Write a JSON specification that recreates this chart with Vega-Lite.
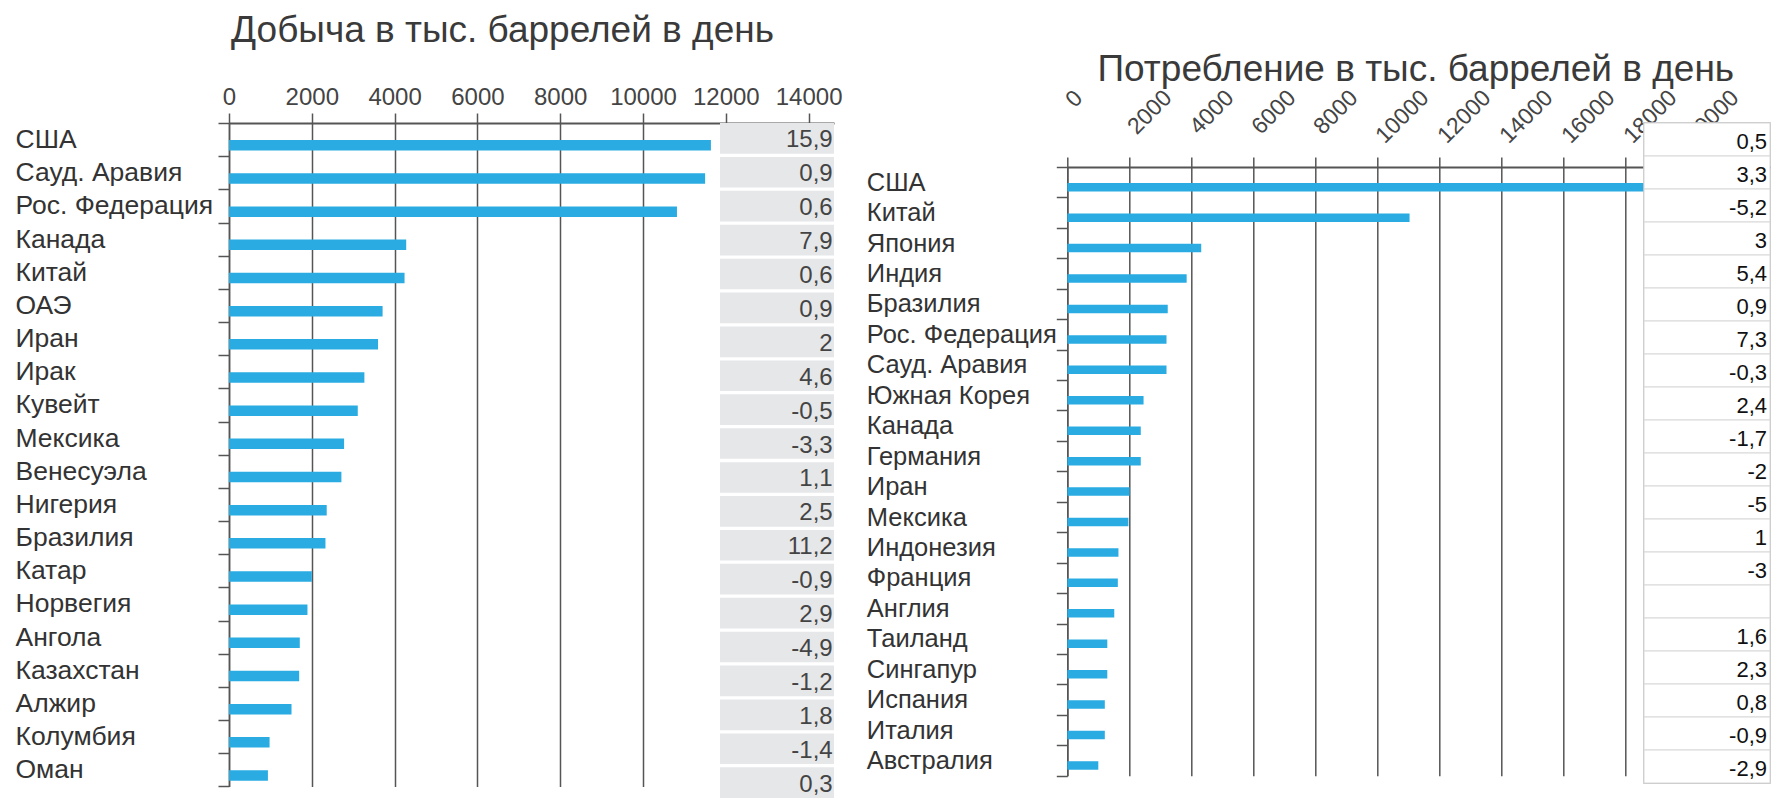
{
  "$schema": "https://vega.github.io/schema/vega-lite/v6.json",
  "padding": {"left": 15, "top": 12, "right": 0, "bottom": 0},
  "autosize": {"type": "pad"},
  "config": {
    "font": "Liberation Sans",
    "view": {"stroke": null},
    "title": {"fontWeight": "normal", "fontSize": 37, "color": "#3a3a3a"}
  },
  "datasets": {
    "production": [
      {"country": "США", "kbd": 11640, "change": "15,9"},
      {"country": "Сауд. Аравия", "kbd": 11500, "change": "0,9"},
      {"country": "Рос. Федерация", "kbd": 10820, "change": "0,6"},
      {"country": "Канада", "kbd": 4280, "change": "7,9"},
      {"country": "Китай", "kbd": 4240, "change": "0,6"},
      {"country": "ОАЭ", "kbd": 3710, "change": "0,9"},
      {"country": "Иран", "kbd": 3600, "change": "2"},
      {"country": "Ирак", "kbd": 3270, "change": "4,6"},
      {"country": "Кувейт", "kbd": 3110, "change": "-0,5"},
      {"country": "Мексика", "kbd": 2780, "change": "-3,3"},
      {"country": "Венесуэла", "kbd": 2715, "change": "1,1"},
      {"country": "Нигерия", "kbd": 2360, "change": "2,5"},
      {"country": "Бразилия", "kbd": 2330, "change": "11,2"},
      {"country": "Катар", "kbd": 2000, "change": "-0,9"},
      {"country": "Норвегия", "kbd": 1895, "change": "2,9"},
      {"country": "Ангола", "kbd": 1710, "change": "-4,9"},
      {"country": "Казахстан", "kbd": 1695, "change": "-1,2"},
      {"country": "Алжир", "kbd": 1510, "change": "1,8"},
      {"country": "Колумбия", "kbd": 980, "change": "-1,4"},
      {"country": "Оман", "kbd": 940, "change": "0,3"}
    ],
    "consumption": [
      {"country": "США", "kbd": 19000, "change": "0,5"},
      {"country": "Китай", "kbd": 11040, "change": "3,3"},
      {"country": "Япония", "kbd": 4320, "change": "-5,2"},
      {"country": "Индия", "kbd": 3850, "change": "3"},
      {"country": "Бразилия", "kbd": 3240, "change": "5,4"},
      {"country": "Рос. Федерация", "kbd": 3200, "change": "0,9"},
      {"country": "Сауд. Аравия", "kbd": 3200, "change": "7,3"},
      {"country": "Южная Корея", "kbd": 2460, "change": "-0,3"},
      {"country": "Канада", "kbd": 2370, "change": "2,4"},
      {"country": "Германия", "kbd": 2370, "change": "-1,7"},
      {"country": "Иран", "kbd": 2010, "change": "-2"},
      {"country": "Мексика", "kbd": 1970, "change": "-5"},
      {"country": "Индонезия", "kbd": 1650, "change": "1"},
      {"country": "Франция", "kbd": 1630, "change": "-3"},
      {"country": "Англия", "kbd": 1515, "change": ""},
      {"country": "Таиланд", "kbd": 1290, "change": "1,6"},
      {"country": "Сингапур", "kbd": 1290, "change": "2,3"},
      {"country": "Испания", "kbd": 1210, "change": "0,8"},
      {"country": "Италия", "kbd": 1210, "change": "-0,9"},
      {"country": "Австралия", "kbd": 1000, "change": "-2,9"}
    ]
  },
  "bounds": "flush",
  "spacing": 838.3,
  "hconcat": [
    {
      "bounds": "flush",
      "spacing": 491,
      "hconcat": [
        {
          "bounds": "flush",
          "hconcat": [
            {
              "width": 605,
              "height": 663.4,
              "data": {"name": "production"},
              "title": {"text": "Добыча в тыс. баррелей в день", "anchor": "middle", "frame": "group", "dx": -29, "offset": 35},
              "mark": {"type": "bar", "color": "#2aabe2", "height": 10.5, "yOffset": 5.7},
              "encoding": {
                "y": {
                  "field": "country", "type": "nominal", "sort": null,
                  "scale": {"paddingInner": 0, "paddingOuter": 0},
                  "axis": {"title": null, "orient": "left", "tickBand": "extent", "tickSize": 11, "tickColor": "#555", "tickWidth": 1.5, "domainColor": "#555", "domainWidth": 1.5, "labelAlign": "left", "labelBaseline": "middle", "labelPadding": 203, "labelFontSize": 26.5, "labelColor": "#333", "labelLimit": 0, "grid": false}
                },
                "x": {
                  "field": "kbd", "type": "quantitative",
                  "scale": {"domain": [0, 14613], "nice": false},
                  "axis": {"title": null, "orient": "top", "values": [0, 2000, 4000, 6000, 8000, 10000, 12000, 14000], "format": "d", "grid": true, "gridColor": "#555", "gridWidth": 1.5, "domainColor": "#555", "domainWidth": 2, "tickSize": 10, "tickColor": "#555", "tickWidth": 1.5, "labelFontSize": 24, "labelColor": "#444", "labelPadding": 4, "labelFlush": false, "labelOverlap": false}
                }
              }
            }
          ]
        },
        {
          "width": 114,
          "height": 675,
          "view": {"fill": "white", "stroke": null},
          "data": {"name": "production"},
          "encoding": {
            "y": {"field": "country", "type": "nominal", "sort": null, "scale": {"paddingInner": 0.096, "paddingOuter": 0}, "axis": null}
          },
          "layer": [
            {"mark": {"type": "bar", "color": "#e6e7e9"}},
            {"mark": {"type": "text", "align": "right", "baseline": "middle", "dx": 55.7, "dy": 2, "fontSize": 24, "color": "#444"}, "encoding": {"text": {"field": "change"}}}
          ]
        }
      ]
    },
    {
      "bounds": "flush",
      "spacing": 576.7,
      "hconcat": [
        {
          "bounds": "flush",
          "spacing": 43,
          "vconcat": [
            {"width": 1, "height": 1, "data": {"values": []}, "mark": "point"},
            {
              "width": 703,
              "height": 608.7,
              "data": {"name": "consumption"},
              "title": {"text": "Потребление в тыс. баррелей в день", "anchor": "middle", "frame": "group", "dx": -3, "offset": -3},
              "mark": {"type": "bar", "color": "#2aabe2", "height": 8.5, "yOffset": 5},
              "encoding": {
                "y": {
                  "field": "country", "type": "nominal", "sort": null,
                  "scale": {"paddingInner": 0, "paddingOuter": 0},
                  "axis": {"title": null, "orient": "left", "tickBand": "extent", "tickSize": 11, "tickColor": "#555", "tickWidth": 1.5, "domainColor": "#555", "domainWidth": 1.5, "labelAlign": "left", "labelBaseline": "middle", "labelPadding": 190, "labelFontSize": 25.5, "labelColor": "#333", "labelLimit": 0, "grid": false}
                },
                "x": {
                  "field": "kbd", "type": "quantitative",
                  "scale": {"domain": [0, 22677], "nice": false},
                  "axis": {"title": null, "orient": "top", "values": [0, 2000, 4000, 6000, 8000, 10000, 12000, 14000, 16000, 18000, 20000], "format": "d", "grid": true, "gridColor": "#555", "gridWidth": 1.5, "domainColor": "#555", "domainWidth": 2, "tickSize": 10, "tickColor": "#555", "tickWidth": 1.5, "labelFontSize": 23, "labelColor": "#444", "labelAngle": -45, "labelAlign": "left", "labelBaseline": "middle", "labelOffset": 2, "labelPadding": {"condition": [{"test": "datum.value == 0", "value": 54}, {"test": "datum.value >= 10000", "value": 18}], "value": 27}, "labelFlush": false, "labelOverlap": false}
                }
              }
            }
          ]
        },
        {
          "width": 126,
          "height": 660,
          "view": {"fill": "white", "stroke": "#b3b3b3", "strokeWidth": 1.5},
          "data": {"name": "consumption"},
          "encoding": {
            "y": {"field": "country", "type": "nominal", "sort": null, "scale": {"paddingInner": 0, "paddingOuter": 0}, "axis": null}
          },
          "layer": [
            {"mark": {"type": "bar", "fill": "white", "stroke": "#d8d8d8", "strokeWidth": 1}},
            {"mark": {"type": "text", "align": "right", "baseline": "middle", "dx": 60, "dy": 2, "fontSize": 22, "color": "#111"}, "encoding": {"text": {"field": "change"}}}
          ]
        }
      ]
    }
  ]
}
